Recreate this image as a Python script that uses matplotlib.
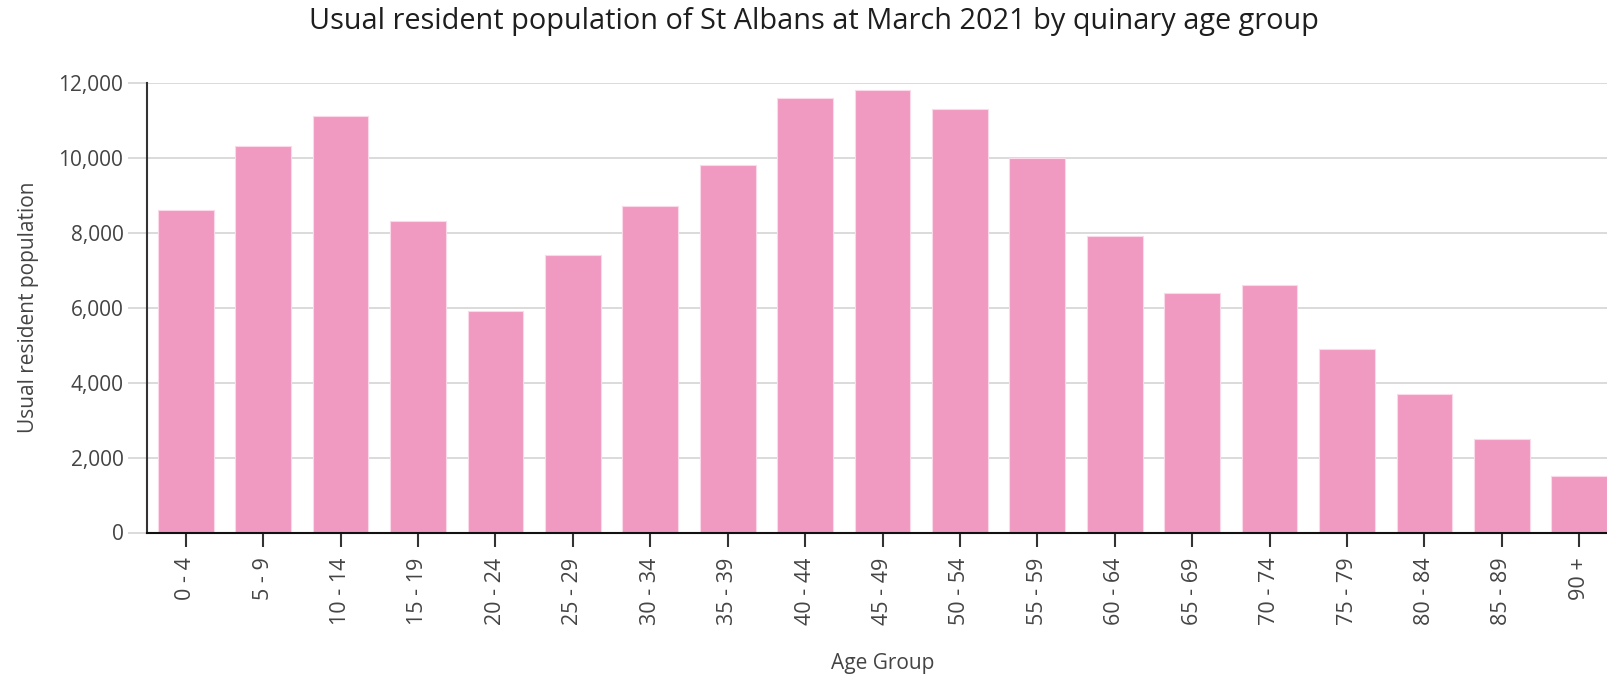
import matplotlib
matplotlib.use("Agg")
from matplotlib import pyplot as plt
from matplotlib.ticker import FuncFormatter

plt.rcParams['font.family'] = ['Open Sans', 'DejaVu Sans']

age_groups = ["0 - 4", "5 - 9", "10 - 14", "15 - 19", "20 - 24", "25 - 29", "30 - 34",
              "35 - 39", "40 - 44", "45 - 49", "50 - 54", "55 - 59", "60 - 64", "65 - 69",
              "70 - 74", "75 - 79", "80 - 84", "85 - 89", "90 +"]
population = [8600, 10300, 11100, 8300, 5900, 7400, 8700, 9800, 11600, 11800,
              11300, 10000, 7900, 6400, 6600, 4900, 3700, 2500, 1500]
y_ticks = [0, 2000, 4000, 6000, 8000, 10000, 12000]

W, H = 1608, 676
fig = plt.figure(figsize=(W / 100, H / 100), dpi=100)
# axes runs past the right edge of the figure, like the original
left, right, bottom, top = 147, 1618, 532.5, 82.7
ax = fig.add_axes([left / W, 1 - bottom / H, (right - left) / W, (bottom - top) / H])

x = range(len(age_groups))
ax.bar(x, population, width=0.72, color='#f09ac1', edgecolor='#fbd9e8', linewidth=0.8, zorder=2)

ax.set_xlim(-0.5, len(age_groups) - 0.5)
ax.set_ylim(0, 12000)
ax.set_yticks(y_ticks)
ax.yaxis.set_major_formatter(FuncFormatter(lambda v, p: f"{int(v):,}"))
ax.set_xticks(list(x))
ax.set_xticklabels(age_groups, rotation=90)

ax.grid(axis='y', color='#d4d4d4', linewidth=1.2, zorder=0)
ax.set_axisbelow(True)
for s in ['top', 'right']:
    ax.spines[s].set_visible(False)
ax.spines['left'].set_color('#333333')
ax.spines['left'].set_linewidth(1.5)
ax.spines['bottom'].set_color('#111111')
ax.spines['bottom'].set_linewidth(1.5)

ax.tick_params(axis='y', length=14, color='#d4d4d4', width=1.2, labelsize=15, labelcolor='#444444', pad=3)
ax.tick_params(axis='x', length=10, color='#333333', width=1.5, labelsize=15.5, labelcolor='#444444', pad=8)

ax.set_ylabel("Usual resident population", fontsize=15, color='#444444', labelpad=14)
ax.set_xlabel("Age Group", fontsize=15, color='#444444', labelpad=20)
fig.text(814 / W, 1 - 22 / H, "Usual resident population of St Albans at March 2021 by quinary age group",
         ha='center', va='center', fontsize=20.8, color='#1e1e1e')

fig.savefig("out.png", dpi=100)
